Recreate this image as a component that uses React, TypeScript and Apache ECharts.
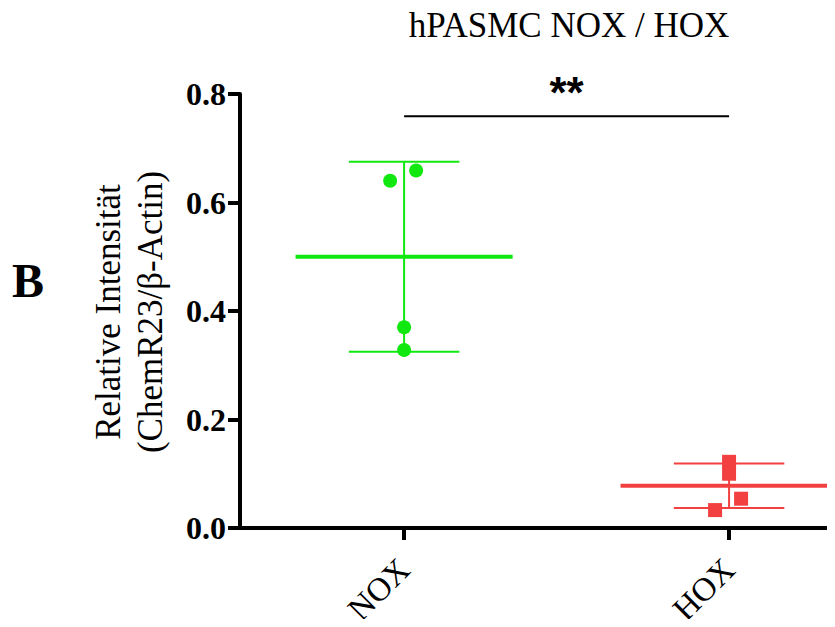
import React, { useEffect, useRef } from "react";
import * as echarts from "echarts";

const categories = ["NOX", "HOX"];
const noxValues = [0.64, 0.659, 0.37, 0.328];
const noxJitter = [-0.043, 0.037, 0, 0];
const hoxValues = [0.122, 0.1, 0.054, 0.033];
const hoxJitter = [0, 0, 0.037, -0.043];
const means = [0.5, 0.078];
const sds = [0.175, 0.041];
const sigLevel = 0.759;
const sigText = "**";
const yTicks = [0, 0.2, 0.4, 0.6, 0.8];

const GREEN = "#10e810";
const RED = "#f24040";
const SERIF = "'Liberation Serif', 'Times New Roman', serif";

export default function App() {
  const ref = useRef<HTMLDivElement>(null);
  useEffect(() => {
    const chart = echarts.init(ref.current!, null, { renderer: "svg" });
    const colors = [GREEN, RED];
    const option: any = {
      animation: false,
      backgroundColor: "#fff",
      title: {
        text: "hPASMC NOX / HOX",
        left: 564,
        top: 3,
        textAlign: "center",
        textStyle: { fontFamily: SERIF, fontSize: 35, fontWeight: "normal", color: "#000" },
      },
      grid: { left: 240, top: 94, right: 0, bottom: 99, containLabel: false, outerBoundsMode: "none" },
      xAxis: {
        type: "value",
        min: 0.495,
        max: 2.326,
        splitLine: { show: false },
        axisLine: { lineStyle: { color: "#000", width: 4 } },
        axisTick: { customValues: [1, 2], length: 12, lineStyle: { color: "#000", width: 4 } },
        axisLabel: {
          customValues: [1, 2],
          formatter: (v: number) => categories[Math.round(v) - 1],
          rotate: 45,
          margin: 36,
          color: "#000",
          fontFamily: SERIF,
          fontSize: 33,
        },
      },
      yAxis: {
        type: "value",
        min: yTicks[0],
        max: yTicks[yTicks.length - 1],
        interval: 0.2,
        splitLine: { show: false },
        axisLine: { show: true, lineStyle: { color: "#000", width: 4 } },
        axisTick: { show: true, length: 12, lineStyle: { color: "#000", width: 4 } },
        axisLabel: {
          formatter: (v: number) => v.toFixed(1),
          margin: 14,
          color: "#000",
          fontFamily: SERIF,
          fontSize: 32,
          fontWeight: "bold",
        },
      },
      graphic: [
        {
          type: "text",
          left: 12,
          top: 256,
          style: { text: "B", fontFamily: SERIF, fontSize: 48, fontWeight: "bold", fill: "#000" },
        },
        {
          type: "text",
          x: 129,
          y: 312,
          rotation: Math.PI / 2,
          style: {
            text: "Relative Intensität\n(ChemR23/β-Actin)",
            fontFamily: SERIF,
            fontSize: 35,
            lineHeight: 42,
            fill: "#000",
            align: "center",
            verticalAlign: "middle",
          },
        },
      ],
      series: [
        {
          type: "custom",
          z: 2,
          data: means.map((m, i) => [i + 1, m, sds[i]]),
          renderItem: (params: any, api: any) => {
            const x = api.value(0);
            const m = api.value(1);
            const s = api.value(2);
            const c = colors[params.dataIndex];
            const top = api.coord([x, m + s]);
            const bot = api.coord([x, m - s]);
            const capL = api.coord([x - 0.17, m])[0];
            const capR = api.coord([x + 0.17, m])[0];
            const mL = api.coord([x - 0.334, m]);
            const mR = api.coord([x + 0.334, m]);
            const thin = { stroke: c, lineWidth: 2 };
            return {
              type: "group",
              children: [
                { type: "line", shape: { x1: top[0], y1: top[1], x2: bot[0], y2: bot[1] }, style: thin },
                { type: "line", shape: { x1: capL, y1: top[1], x2: capR, y2: top[1] }, style: thin },
                { type: "line", shape: { x1: capL, y1: bot[1], x2: capR, y2: bot[1] }, style: thin },
                { type: "line", shape: { x1: mL[0], y1: mL[1], x2: mR[0], y2: mR[1] }, style: { stroke: c, lineWidth: 4 } },
              ],
            };
          },
        },
        {
          type: "scatter",
          z: 3,
          symbol: "circle",
          symbolSize: 14,
          itemStyle: { color: GREEN, opacity: 1 },
          data: noxValues.map((v, i) => [1 + noxJitter[i], v]),
        },
        {
          type: "scatter",
          z: 3,
          symbol: "rect",
          symbolSize: 14,
          itemStyle: { color: RED, opacity: 1 },
          data: hoxValues.map((v, i) => [2 + hoxJitter[i], v]),
        },
        {
          type: "line",
          symbol: "none",
          lineStyle: { color: "#000", width: 2 },
          data: [
            [1, sigLevel],
            [2, sigLevel],
          ],
        },
        {
          type: "scatter",
          symbolSize: 0,
          itemStyle: { opacity: 0 },
          data: [[1.5, sigLevel]],
          label: {
            show: true,
            position: "top",
            distance: 2,
            formatter: () => sigText,
            color: "#000",
            opacity: 1,
            fontFamily: "'Liberation Sans', Arial, sans-serif",
            fontSize: 44,
            fontWeight: "bold",
          },
        },
      ],
    };
    chart.setOption(option);
    return () => chart.dispose();
  }, []);
  return <div ref={ref} style={{ width: 835, height: 627, margin: -8 }} />;
}
